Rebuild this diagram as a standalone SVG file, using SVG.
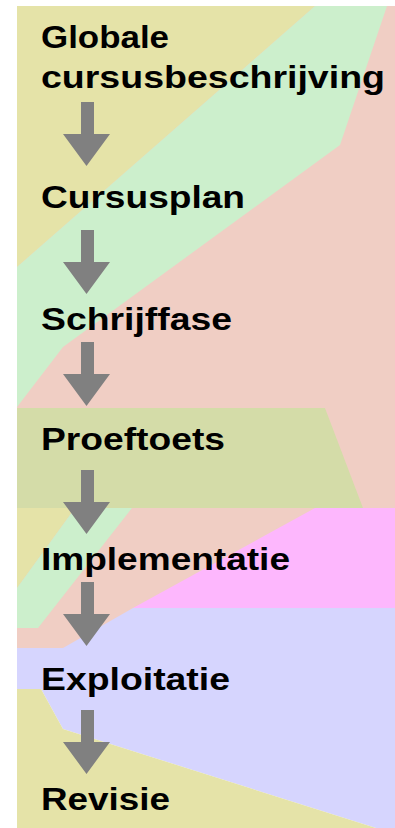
<svg xmlns="http://www.w3.org/2000/svg" width="395" height="828" viewBox="0 0 395 828">
<style>
.lbl{font-family:"Liberation Sans",Arial,sans-serif;font-weight:bold;font-size:31px;fill:#000}
.arrow{fill:#808080}
</style>
<defs>
<path id="arr" d="M81,0 H94 V32 H110 L86.5,64 L63,32 H81 Z"/>
</defs>
<rect x="0" y="0" width="395" height="828" fill="#fff"/>
<g id="background">
<rect x="17" y="6" width="378" height="502" fill="#f0cec4"/>
<polygon points="17,6 315,6 17,267" fill="#e5e3a8"/>
<polygon points="315,6 387,6 340,145 63,347 17,407 17,267" fill="#ccefcc"/>
<polygon points="17,408 325,408 363,508 17,508" fill="#d4dca8"/>
<rect x="17" y="508" width="378" height="140" fill="#f0cec4"/>
<polygon points="17,508 75,508 17,588" fill="#e5e3a8"/>
<polygon points="75,508 132,508 38,628 17,628 17,588" fill="#ccefcc"/>
<polygon points="315,508 395,508 395,608 133,608" fill="#fdb7fd"/>
<polygon points="17,648 63,648 133,608 395,608 395,828 376,828 63,729 41,689 17,689" fill="#d6d5fe"/>
<polygon points="17,689 41,689 63,729 376,828 17,828" fill="#e5e3a8"/>
</g>
<g id="connectors" class="arrow">
<use href="#arr" y="102"/>
<use href="#arr" y="230"/>
<use href="#arr" y="342"/>
<use href="#arr" y="470"/>
<use href="#arr" y="582"/>
<use href="#arr" y="710"/>
</g>
<g id="node-globale"><text class="lbl" x="41" y="48" textLength="128" lengthAdjust="spacingAndGlyphs">Globale</text><text class="lbl" x="41" y="88" textLength="344" lengthAdjust="spacingAndGlyphs">cursusbeschrijving</text></g>
<g id="node-cursusplan"><text class="lbl" x="41" y="208" textLength="204" lengthAdjust="spacingAndGlyphs">Cursusplan</text></g>
<g id="node-schrijffase"><text class="lbl" x="41" y="330" textLength="191" lengthAdjust="spacingAndGlyphs">Schrijffase</text></g>
<g id="node-proeftoets"><text class="lbl" x="41" y="450" textLength="184" lengthAdjust="spacingAndGlyphs">Proeftoets</text></g>
<g id="node-implementatie"><text class="lbl" x="41" y="570" textLength="249" lengthAdjust="spacingAndGlyphs">Implementatie</text></g>
<g id="node-exploitatie"><text class="lbl" x="41" y="690" textLength="189" lengthAdjust="spacingAndGlyphs">Exploitatie</text></g>
<g id="node-revisie"><text class="lbl" x="41" y="810" textLength="129" lengthAdjust="spacingAndGlyphs">Revisie</text></g>
</svg>
